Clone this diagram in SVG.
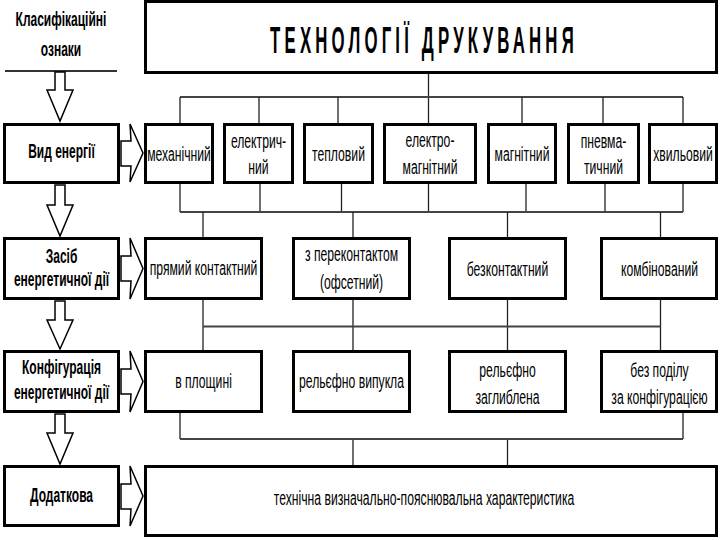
<svg xmlns="http://www.w3.org/2000/svg" width="720" height="540" viewBox="0 0 720 540">
<style>
.bg{fill:#fff}
.box{fill:#fff;stroke:#000;stroke-width:3}
.t{font-family:"Liberation Sans",Arial,sans-serif;font-size:21px;text-anchor:middle;fill:#000}
.h{font-family:"Liberation Sans",Arial,sans-serif;font-size:20px;font-weight:bold;text-anchor:middle;fill:#000}
.title{font-family:"Liberation Sans",Arial,sans-serif;font-size:36px;font-weight:bold;text-anchor:middle;letter-spacing:9px;fill:#000}
.conn{fill:none;stroke:#222;stroke-width:1.3}
.bus{fill:none;stroke:#444;stroke-width:1.8}
.arr{fill:#fff;stroke:#000;stroke-width:1.5;stroke-linejoin:miter}
.rule{stroke:#333;stroke-width:2}
</style>
<rect class="bg" x="0" y="0" width="720" height="540"/>

<g id="connectors">
  <line class="rule" x1="5" y1="71" x2="117" y2="71"/>
  <line class="conn" x1="428.5" y1="73" x2="428.5" y2="123"/>
  <line class="bus" x1="180" y1="97" x2="683" y2="97"/>
  <path class="conn" d="M180,97V123M259,97V123M338,97V123M522,97V123M603,97V123M683,97V123"/>
  <path class="conn" d="M180,184V212M260,184V212M341.5,184V212M428.5,184V212M526,184V212M605,184V212M683,184V212"/>
  <line class="bus" x1="180" y1="212" x2="683" y2="212"/>
  <path class="conn" d="M203,212V237M353,212V237M507.5,212V237M660.5,212V237"/>
  <path class="conn" d="M203,300V350M353,300V350M507.5,300V350M660.5,300V350"/>
  <line class="bus" x1="203" y1="326.5" x2="660.5" y2="326.5"/>
  <path class="conn" d="M180,413V439M683,413V439M353,439V465M507.5,439V465"/>
  <line class="bus" x1="180" y1="439" x2="683" y2="439"/>
  <polygon class="arr" points="55,72 55,90 47,90 60,121 73,90 65,90 65,72"/>
  <polygon class="arr" points="55,185 55,205 47,205 60,236 73,205 65,205 65,185"/>
  <polygon class="arr" points="55,301 55,320 47,320 60,349 73,320 65,320 65,301"/>
  <polygon class="arr" points="55,414 55,433 47,433 60,464 73,433 65,433 65,414"/>
  <polygon class="arr" points="121,141 131,141 130,124 143,153 130,182 131,166 121,166"/>
  <polygon class="arr" points="121,256 131,256 130,238 143,268.5 130,299 131,281 121,281"/>
  <polygon class="arr" points="121,369 131,369 130,351 143,381.5 130,412 131,394 121,394"/>
  <polygon class="arr" points="121,484 131,484 130,466 143,496 130,526 131,509 121,509"/>
</g>

<g id="header">
  <text class="h" transform="translate(61,26) scale(0.6,1)">Класифікаційні</text>
  <text class="h" transform="translate(61,56) scale(0.6,1)">ознаки</text>
</g>

<g id="title">
  <rect class="box" x="145.5" y="1.5" width="571" height="71"/>
  <text class="title" transform="translate(424,53) scale(0.466,1)">ТЕХНОЛОГІЇ ДРУКУВАННЯ</text>
</g>

<g id="vid-energii">
  <rect class="box" x="4.5" y="124.5" width="114" height="58"/>
  <text class="h" transform="translate(61.5,158) scale(0.6,1)">Вид енергії</text>
</g>
<g id="zasib">
  <rect class="box" x="4.5" y="238.5" width="114" height="60"/>
  <text class="h" transform="translate(61.5,0) scale(0.6,1)"><tspan x="0" y="263">Засіб</tspan><tspan x="0" y="286">енергетичної дії</tspan></text>
</g>
<g id="konfiguratsiia">
  <rect class="box" x="4.5" y="351.5" width="114" height="60"/>
  <text class="h" transform="translate(61.5,0) scale(0.6,1)"><tspan x="0" y="374">Конфігурація</tspan><tspan x="0" y="399">енергетичної дії</tspan></text>
</g>
<g id="dodatkova">
  <rect class="box" x="4.5" y="466.5" width="114" height="59"/>
  <text class="h" transform="translate(61.5,502) scale(0.6,1)">Додаткова</text>
</g>

<g id="mekhanichnyi">
  <rect class="box" x="145.5" y="124.5" width="67" height="58"/>
  <text class="t" transform="translate(179,161) scale(0.58,1)">механічний</text>
</g>
<g id="elektrychnyi">
  <rect class="box" x="224.5" y="124.5" width="68" height="58"/>
  <text class="t" transform="translate(258.5,0) scale(0.58,1)"><tspan x="0" y="148">електрич-</tspan><tspan x="0" y="174">ний</tspan></text>
</g>
<g id="teplovyi">
  <rect class="box" x="304.5" y="124.5" width="68" height="58"/>
  <text class="t" transform="translate(338.5,161) scale(0.58,1)">тепловий</text>
</g>
<g id="elektromagnitnyi">
  <rect class="box" x="384.5" y="124.5" width="91" height="58"/>
  <text class="t" transform="translate(430,0) scale(0.58,1)"><tspan x="0" y="147">електро-</tspan><tspan x="0" y="174">магнітний</tspan></text>
</g>
<g id="mahnitnyi">
  <rect class="box" x="488.5" y="124.5" width="67" height="58"/>
  <text class="t" transform="translate(522,161) scale(0.58,1)">магнітний</text>
</g>
<g id="pnevmatychnyi">
  <rect class="box" x="568.5" y="124.5" width="70" height="58"/>
  <text class="t" transform="translate(603.5,0) scale(0.58,1)"><tspan x="0" y="148">пневма-</tspan><tspan x="0" y="174">тичний</tspan></text>
</g>
<g id="khvylovyi">
  <rect class="box" x="649.5" y="124.5" width="67" height="58"/>
  <text class="t" transform="translate(683,161) scale(0.58,1)">хвильовий</text>
</g>

<g id="priamyi-kontaktnyi">
  <rect class="box" x="145.5" y="238.5" width="116" height="60"/>
  <text class="t" transform="translate(203.5,275) scale(0.58,1)">прямий контактний</text>
</g>
<g id="z-perekontaktom">
  <rect class="box" x="293.5" y="238.5" width="116" height="60"/>
  <text class="t" transform="translate(351.5,0) scale(0.58,1)"><tspan x="0" y="261">з переконтактом</tspan><tspan x="0" y="289">(офсетний)</tspan></text>
</g>
<g id="bezkontaktnyi">
  <rect class="box" x="449.5" y="238.5" width="116" height="60"/>
  <text class="t" transform="translate(507.5,276) scale(0.58,1)">безконтактний</text>
</g>
<g id="kombinovanyi">
  <rect class="box" x="601.5" y="238.5" width="115" height="60"/>
  <text class="t" transform="translate(659.5,276) scale(0.58,1)">комбінований</text>
</g>

<g id="v-ploshchyni">
  <rect class="box" x="145.5" y="351.5" width="116" height="60"/>
  <text class="t" transform="translate(203.5,388) scale(0.58,1)">в площині</text>
</g>
<g id="relefno-vypukla">
  <rect class="box" x="293.5" y="351.5" width="116" height="60"/>
  <text class="t" transform="translate(351.5,388) scale(0.58,1)">рельєфно випукла</text>
</g>
<g id="relefno-zahlyblena">
  <rect class="box" x="449.5" y="351.5" width="116" height="60"/>
  <text class="t" transform="translate(507.5,0) scale(0.58,1)"><tspan x="0" y="377">рельєфно</tspan><tspan x="0" y="404">заглиблена</tspan></text>
</g>
<g id="bez-podilu">
  <rect class="box" x="601.5" y="351.5" width="115" height="60"/>
  <text class="t" transform="translate(659.5,0) scale(0.58,1)"><tspan x="0" y="377">без поділу</tspan><tspan x="0" y="404">за конфігурацією</tspan></text>
</g>

<g id="kharakterystyka">
  <rect class="box" x="145.5" y="466.5" width="571" height="69"/>
  <text class="t" transform="translate(424,505) scale(0.58,1)">технічна визначально-пояснювальна характеристика</text>
</g>
</svg>
